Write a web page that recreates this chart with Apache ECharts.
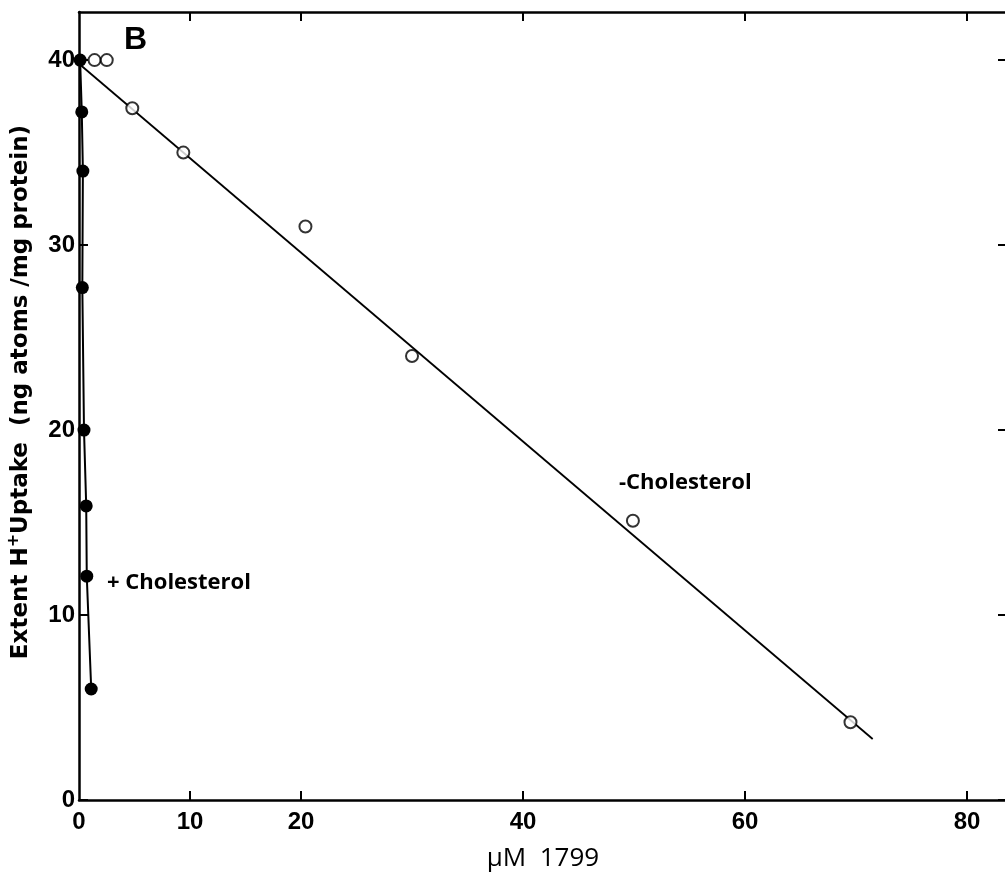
<!DOCTYPE html>
<html>
<head>
<meta charset="utf-8">
<script src="https://cdn.jsdelivr.net/npm/echarts@6/dist/echarts.min.js"></script>
<style>
  html, body { margin: 0; background: #fff; }
  #chart { width: 1005px; height: 877px; }
</style>
</head>
<body>
<div id="chart"></div>
<script>
// - Cholesterol (open circles) and its fitted straight line
const minusX = [1.4, 2.5, 4.8, 9.4, 20.4, 30, 49.9, 69.5]
const minusY = [40, 40, 37.4, 35, 31, 24, 15.1, 4.2]
const minusFitX = [0, 71.5]
const minusFitY = [39.8, 3.3]

// + Cholesterol (filled circles)
const plusX = [0.1, 0.25, 0.35, 0.3, 0.45, 0.65, 0.7, 1.1]
const plusY = [40, 37.2, 34, 27.7, 20, 15.9, 12.1, 6]

const xTicks = [10, 20, 40, 60, 80]
const xLabels = [0, 10, 20, 40, 60, 80]
const yTicks = [0, 10, 20, 30, 40]

const zip = (xs, ys) => xs.map((x, i) => [x, ys[i]])

const chart = echarts.init(document.getElementById('chart'))

const tickFont = {
  color: '#000',
  fontFamily: 'Liberation Sans',
  fontWeight: 'bold',
  fontSize: 24
}
const frameLine = { onZero: false, lineStyle: { color: '#000', width: 2.5 } }
const frameTick = { inside: true, length: 9, lineStyle: { color: '#000', width: 2 } }

const option = {
  animation: false,
  backgroundColor: '#fff',
  grid: { left: 79, right: -2, top: 12, bottom: 77, outerBoundsMode: 'none', containLabel: false },
  xAxis: [
    {
      type: 'value',
      position: 'bottom',
      min: 0,
      max: 83.6,
      axisLine: frameLine,
      axisTick: Object.assign({ customValues: xTicks }, frameTick),
      axisLabel: Object.assign({ customValues: xLabels, margin: 10 }, tickFont),
      splitLine: { show: false },
      name: 'μM  1799',
      nameLocation: 'middle',
      nameGap: 46,
      nameTextStyle: { color: '#000', fontFamily: 'Open Sans', fontSize: 26, fontWeight: 'normal' }
    },
    {
      type: 'value',
      position: 'top',
      min: 0,
      max: 83.6,
      axisLine: frameLine,
      axisTick: Object.assign({ customValues: xTicks }, frameTick),
      axisLabel: { show: false },
      splitLine: { show: false }
    }
  ],
  yAxis: [
    {
      type: 'value',
      position: 'left',
      min: 0,
      max: 42.6,
      axisLine: frameLine,
      axisTick: Object.assign({ customValues: yTicks }, frameTick),
      axisLabel: Object.assign({ customValues: yTicks, margin: 4 }, tickFont),
      splitLine: { show: false },
      name: 'Extent H{sup|+}Uptake  (ng atoms /mg protein)',
      nameLocation: 'middle',
      nameGap: 43,
      nameTextStyle: {
        color: '#000',
        fontFamily: 'DejaVu Sans',
        fontWeight: 'bold',
        fontSize: 23,
        padding: [0, 0, 0, 28],
        rich: {
          sup: { fontFamily: 'DejaVu Sans', fontWeight: 'bold', fontSize: 16, verticalAlign: 'bottom', padding: [0, 0, 14, 0] }
        }
      }
    },
    {
      type: 'value',
      position: 'right',
      min: 0,
      max: 42.6,
      axisLine: frameLine,
      axisTick: Object.assign({ customValues: yTicks }, frameTick),
      axisLabel: { show: false },
      splitLine: { show: false }
    }
  ],
  series: [
    {
      name: '-Cholesterol fit',
      type: 'line',
      data: zip(minusFitX, minusFitY),
      showSymbol: false,
      lineStyle: { color: '#000', width: 1.8 },
      z: 2
    },
    {
      name: '-Cholesterol',
      type: 'scatter',
      data: zip(minusX, minusY),
      symbol: 'circle',
      symbolSize: 12,
      itemStyle: { color: '#fff', borderColor: '#000', borderWidth: 2 },
      z: 3
    },
    {
      name: '+Cholesterol',
      type: 'line',
      data: zip(plusX, plusY),
      symbol: 'circle',
      symbolSize: 13,
      showAllSymbol: true,
      itemStyle: { color: '#000' },
      lineStyle: { color: '#000', width: 2 },
      z: 4
    }
  ],
  graphic: [
    {
      type: 'text',
      left: 124,
      top: 24,
      style: { text: 'B', fill: '#000', font: 'bold 32px "Liberation Sans"' }
    },
    {
      type: 'text',
      left: 107,
      top: 572,
      style: { text: '+ Cholesterol', fill: '#000', font: 'bold 22px "Open Sans"' }
    },
    {
      type: 'text',
      left: 619,
      top: 472,
      style: { text: '-Cholesterol', fill: '#000', font: 'bold 22px "Open Sans"' }
    }
  ]
}

chart.setOption(option)
</script>
</body>
</html>
